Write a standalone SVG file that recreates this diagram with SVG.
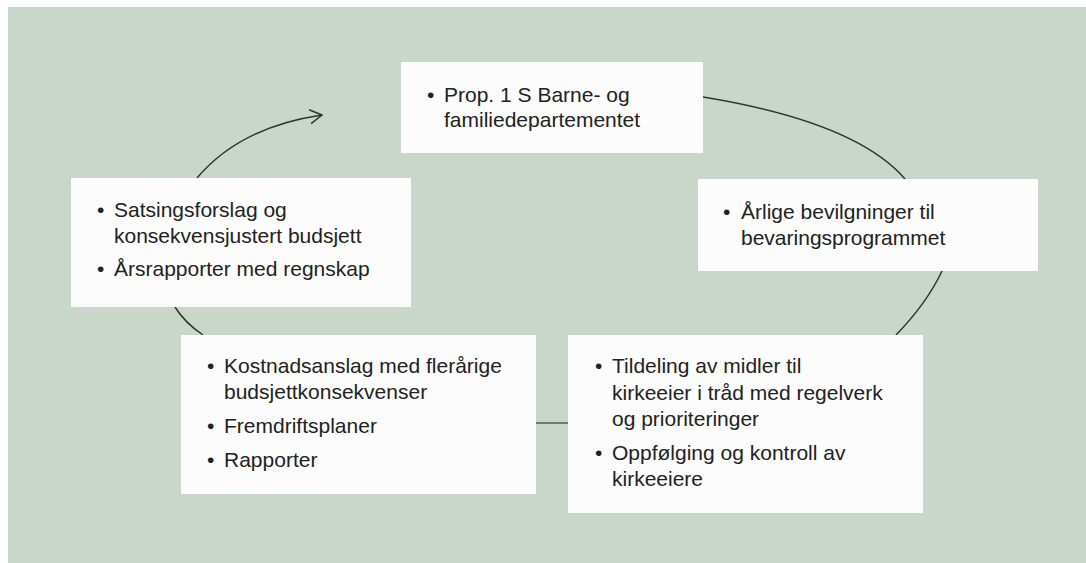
<svg xmlns="http://www.w3.org/2000/svg" width="1086" height="563" viewBox="0 0 1086 563">
<defs>
<style>
.box{fill:#fbfcfb;}
.t{font-family:"Liberation Sans",Arial,sans-serif;font-size:21px;fill:#222;}
.c{fill:none;stroke:#2a3630;stroke-width:1.5;}
</style>
<marker id="arr" viewBox="0 0 14 16" refX="13" refY="8" markerWidth="14" markerHeight="16" markerUnits="userSpaceOnUse" orient="auto">
<path d="M1,1 L13,8 L1,15" fill="none" stroke="#2a3630" stroke-width="1.5"/>
</marker>
</defs>
<rect x="0" y="0" width="1086" height="563" fill="#ffffff"/>
<rect x="8" y="7" width="1078" height="556" fill="#c9d7cb"/>
<g id="connectors">
<path class="c" d="M197,178 Q240,127 322,115" marker-end="url(#arr)"/>
<path class="c" d="M703,97 Q856,122 905,179"/>
<path class="c" d="M942,271 Q927,303 896,335"/>
<path class="c" d="M175,307 Q185,323 203,335"/>
<line x1="536" y1="423" x2="568" y2="423" stroke="#6f7d74" stroke-width="2"/>
</g>
<g id="node-top">
<rect class="box" x="401" y="62" width="302" height="91"/>
<text class="t" x="427" y="102">•</text>
<text class="t" x="444" y="102">Prop. 1 S Barne- og</text>
<text class="t" x="444" y="127">familiedepartementet</text>
</g>
<g id="node-right">
<rect class="box" x="698" y="179" width="340" height="92"/>
<text class="t" x="723" y="219">•</text>
<text class="t" x="741" y="219">Årlige bevilgninger til</text>
<text class="t" x="741" y="245">bevaringsprogrammet</text>
</g>
<g id="node-left">
<rect class="box" x="71" y="178" width="340" height="129"/>
<text class="t" x="97" y="217">•</text>
<text class="t" x="114" y="217">Satsingsforslag og</text>
<text class="t" x="114" y="243">konsekvensjustert budsjett</text>
<text class="t" x="97" y="276">•</text>
<text class="t" x="114" y="276">Årsrapporter med regnskap</text>
</g>
<g id="node-bottom-left">
<rect class="box" x="181" y="335" width="355" height="159"/>
<text class="t" x="207" y="373">•</text>
<text class="t" x="224" y="373">Kostnadsanslag med flerårige</text>
<text class="t" x="224" y="399">budsjettkonsekvenser</text>
<text class="t" x="207" y="433">•</text>
<text class="t" x="224" y="433">Fremdriftsplaner</text>
<text class="t" x="207" y="467">•</text>
<text class="t" x="224" y="467">Rapporter</text>
</g>
<g id="node-bottom-right">
<rect class="box" x="568" y="335" width="355" height="178"/>
<text class="t" x="595" y="373">•</text>
<text class="t" x="612" y="373">Tildeling av midler til</text>
<text class="t" x="612" y="400">kirkeeier i tråd med regelverk</text>
<text class="t" x="612" y="426">og prioriteringer</text>
<text class="t" x="595" y="460">•</text>
<text class="t" x="612" y="460">Oppfølging og kontroll av</text>
<text class="t" x="612" y="486">kirkeeiere</text>
</g>
</svg>
